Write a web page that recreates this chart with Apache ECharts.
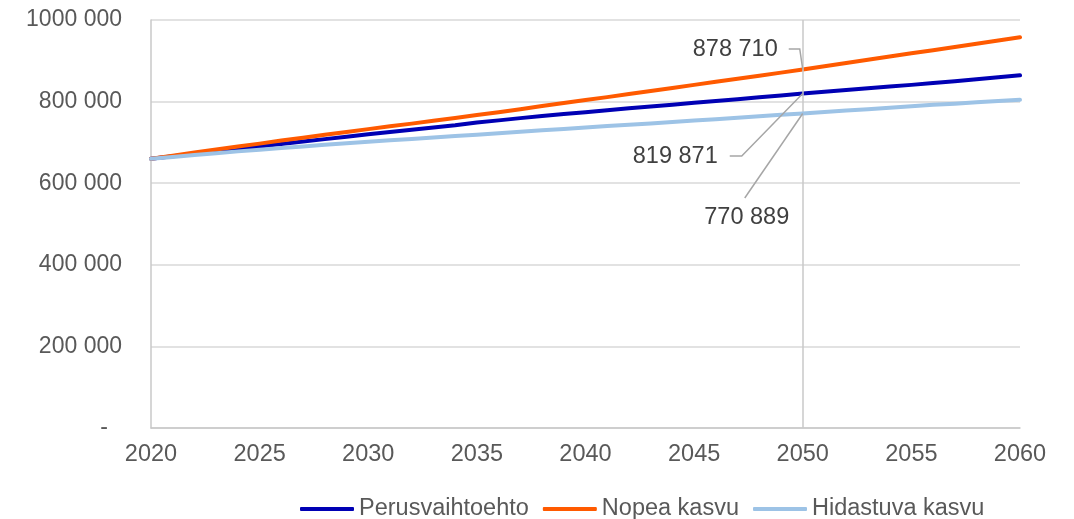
<!DOCTYPE html>
<html>
<head>
<meta charset="utf-8">
<script src="https://cdn.jsdelivr.net/npm/echarts@6/dist/echarts.min.js"></script>
<style>
html,body{margin:0;padding:0;background:#fff;}
#main{width:1074px;height:519px;}
</style>
</head>
<body>
<div id="main"></div>
<script>
const years = [2020,2021,2022,2023,2024,2025,2026,2027,2028,2029,2030,2031,2032,2033,2034,2035,2036,2037,2038,2039,2040,2041,2042,2043,2044,2045,2046,2047,2048,2049,2050,2051,2052,2053,2054,2055,2056,2057,2058,2059,2060];
const seriesNames = ['Perusvaihtoehto','Nopea kasvu','Hidastuva kasvu'];
const perusvaihtoehto = [660000,666000,672000,678000,684000,690000,696000,702000,708000,714000,720000,725500,731000,736500,742000,749000,754000,759500,764500,769500,774000,779000,783500,788000,792500,797000,801500,806000,810500,815000,819871,824000,828500,833000,837000,841000,845500,850000,854500,859500,864500];
const nopeaKasvu = [660000,667500,675000,682500,690000,697000,704500,711500,718500,725500,732500,739500,746000,753000,760000,767000,774000,781500,789000,796500,804000,811000,818500,826000,833500,841000,848500,856000,863500,871000,878710,886500,894500,902500,910500,918500,926000,934000,942000,950000,957600];
const hidastuvaKasvu = [660000,664500,669000,673500,678000,682000,686000,690000,694000,698000,701500,705000,708500,712000,715500,719000,722500,726000,729500,733000,736500,740000,743000,746500,750000,753500,757000,760500,764000,767500,770889,774500,778000,781500,785000,788500,792000,795000,798500,801500,804500];
const yTicks = [0,200000,400000,600000,800000,1000000];
const markYear = 2050;
const annotations = [
  {series:1, text:'878 710'},
  {series:0, text:'819 871'},
  {series:2, text:'770 889'}
];

const colors = ['#0000B4','#FF5A00','#9DC3E6'];
const allData = [perusvaihtoehto, nopeaKasvu, hidastuvaKasvu];
const FONT = '"Liberation Sans", Arial, sans-serif';
const TXT = '#595959';
const FS = 23;

function fmtY(v){
  if (v === 0) return '{d|-}';
  const th = Math.round(v/1000);
  return th + ' 000';
}

const chart = echarts.init(document.getElementById('main'));
const series = seriesNames.map((name,i)=>({
  name, type:'line', showSymbol:false, symbol:'none',
  data: years.map((y,k)=>[y, allData[i][k]]),
  lineStyle:{width:4, color:colors[i], cap:'round', join:'round'},
  itemStyle:{color:colors[i]},
  z: 3 + i
}));
series[0].markLine = {
  silent:true, symbol:'none', label:{show:false},
  lineStyle:{color:'#C8C8C8', width:1.5, type:'solid'},
  data:[{xAxis:markYear}]
};

chart.setOption({
  animation:false,
  textStyle:{fontFamily:FONT},
  grid:{left:151, right:54, top:20, bottom:91, containLabel:false},
  xAxis:{
    type:'value', min:2020, max:2060, interval:5,
    axisLine:{show:true, lineStyle:{color:'#C8C8C8', width:1.5}},
    axisTick:{show:false},
    splitLine:{show:false},
    axisLabel:{color:TXT, fontSize:23.5, fontFamily:FONT, margin:15, formatter:v=>String(v)}
  },
  yAxis:{
    type:'value', min:yTicks[0], max:yTicks[yTicks.length-1], interval:200000,
    axisLine:{show:true, lineStyle:{color:'#C8C8C8', width:1.5}},
    axisTick:{show:false},
    splitLine:{show:true, lineStyle:{color:'#D9D9D9', width:1.5}},
    axisLabel:{color:TXT, fontSize:FS, fontFamily:FONT, margin:29, formatter:fmtY,
      rich:{d:{color:TXT, fontSize:FS, fontFamily:FONT, padding:[0,14,0,0]}}}
  },
  legend:{
    data:seriesNames, top:497, left:300, padding:0,
    icon:'roundRect', itemWidth:54, itemHeight:4, itemGap:14,
    textStyle:{color:TXT, fontSize:23.5, fontFamily:FONT, padding:[0,0,0,0]}
  },
  series
});

const offsets = [
  {line:[[-14,-20.5],[-3,-20.5],[0,0]], text:[-25,-19.5], align:'right'},
  {line:[[-73,62.5],[-61,62.5],[0,0]], text:[-85,63.5], align:'right'},
  {line:[[-58,84.5],[0,0]], text:[-56,104.5], align:'center'}
];
const graphics = [];
annotations.forEach((a,i)=>{
  const val = allData[a.series][years.indexOf(markYear)];
  const p = chart.convertToPixel({gridIndex:0}, [markYear, val]);
  const o = offsets[i];
  graphics.push({
    type:'polyline', silent:true, z:10,
    shape:{points:o.line.map(d=>[p[0]+d[0], p[1]+d[1]])},
    style:{stroke:'#A6A6A6', lineWidth:1.5, fill:null}
  });
  graphics.push({
    type:'text', silent:true, z:10,
    x:p[0]+o.text[0], y:p[1]+o.text[1],
    style:{text:a.text, fill:'#404040', font:'23.5px '+FONT, align:o.align, verticalAlign:'middle'}
  });
});
chart.setOption({graphic:graphics});
</script>
</body>
</html>
